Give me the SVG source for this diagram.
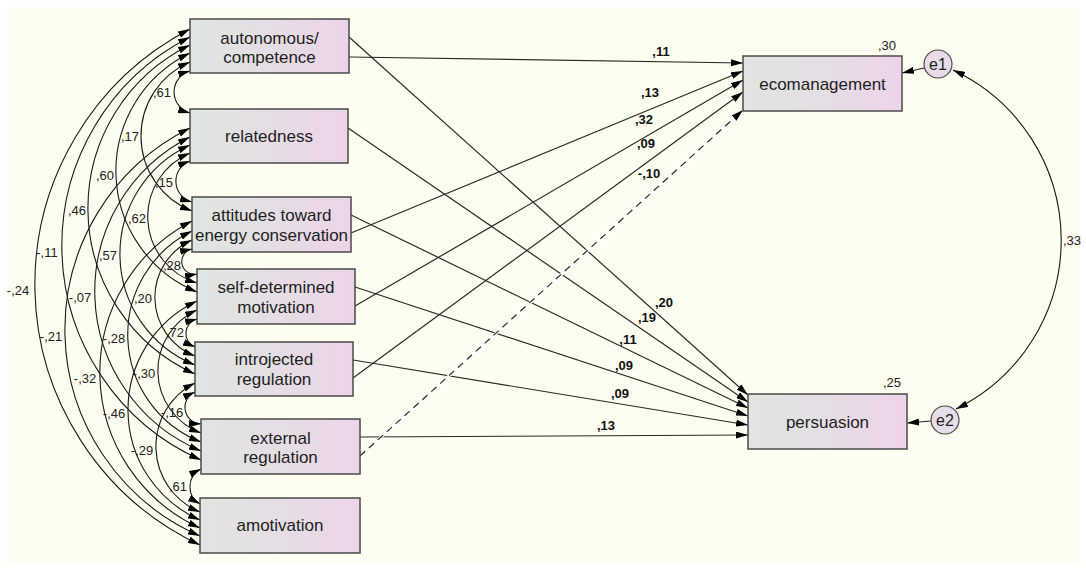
<svg xmlns="http://www.w3.org/2000/svg" width="1086" height="568" viewBox="0 0 1086 568">
<defs>
<linearGradient id="g" x1="0" y1="0" x2="1" y2="0">
<stop offset="0" stop-color="#dfe6e0"/>
<stop offset="1" stop-color="#ecd4ea"/>
</linearGradient>
<marker id="ah" viewBox="0 0 12 7" refX="12" refY="3.5" markerWidth="12" markerHeight="7" markerUnits="userSpaceOnUse" orient="auto-start-reverse">
<path d="M0,0 L12,3.5 L0,7 z" fill="#000"/>
</marker>
<style>
.box{fill:url(#g);stroke:#4a4a4a;stroke-width:1.5}
.err{fill:#e9dcea;stroke:#4a4a4a;stroke-width:1.2}
.nt{font-family:"Liberation Sans",Arial,sans-serif;font-size:17px;fill:#1e1e1e;text-anchor:middle}
.et{font-family:"Liberation Sans",Arial,sans-serif;font-size:16px;fill:#1e1e1e;text-anchor:middle}
.cov{fill:none;stroke:#1a1a1a;stroke-width:1.1;marker-start:url(#ah);marker-end:url(#ah)}
.reg{fill:none;stroke:#2a2a2a;stroke-width:1.2;marker-end:url(#ah)}
.cl{font-family:"Liberation Sans",Arial,sans-serif;font-size:13px;fill:#222;text-anchor:middle}
.rl{font-family:"Liberation Sans",Arial,sans-serif;font-size:13px;font-weight:bold;fill:#111;text-anchor:middle}
</style>
</defs>
<rect x="0" y="0" width="1086" height="568" fill="#ffffff"/>
<rect x="7" y="7" width="1073" height="556" fill="#fefef0"/>

<g id="connectors">
<path class="cov" d="M190,71 A21.8,21.8 0 0 0 190,113"/>
<path class="cov" d="M190,62 A80.5,80.5 0 0 0 192,211"/>
<path class="cov" d="M190,53 A130.9,130.9 0 0 0 197,292"/>
<path class="cov" d="M190,45 A181.7,181.7 0 0 0 195,374"/>
<path class="cov" d="M190,37 A234.3,234.3 0 0 0 201,460"/>
<path class="cov" d="M190,29 A288,288 0 0 0 200,545"/>
<path class="cov" d="M190,161 A21.5,21.5 0 0 0 192,202"/>
<path class="cov" d="M190,153 A69.2,69.2 0 0 0 197,283"/>
<path class="cov" d="M190,145 A119.7,119.7 0 0 0 195,365"/>
<path class="cov" d="M190,137 A172.9,172.9 0 0 0 201,451"/>
<path class="cov" d="M190,128 A225.1,225.1 0 0 0 200,536"/>
<path class="cov" d="M192,249 A12.5,12.5 0 0 0 197,274"/>
<path class="cov" d="M192,240 A62.9,62.9 0 0 0 195,356"/>
<path class="cov" d="M192,231 A115.5,115.5 0 0 0 201,442"/>
<path class="cov" d="M192,221 A170.7,170.7 0 0 0 200,528"/>
<path class="cov" d="M197,319 A14.8,14.8 0 0 0 195,347"/>
<path class="cov" d="M197,310 A66.6,66.6 0 0 0 201,433"/>
<path class="cov" d="M197,301 A120.3,120.3 0 0 0 200,520"/>
<path class="cov" d="M195,392 A16.7,16.7 0 0 0 201,424"/>
<path class="cov" d="M195,383 A70.9,70.9 0 0 0 200,512"/>
<path class="cov" d="M201,469 A19.8,19.8 0 0 0 200,504"/>
<path class="cov" d="M953,70 A188,188 0 0 1 956,409"/>

<line class="reg" x1="349" y1="57" x2="743" y2="63"/>
<line class="reg" x1="349" y1="37" x2="748" y2="395"/>
<line class="reg" x1="348" y1="128" x2="748" y2="402"/>
<line class="reg" x1="351" y1="233" x2="743" y2="71"/>
<line class="reg" x1="351" y1="215" x2="748" y2="408"/>
<line class="reg" x1="355" y1="306" x2="743" y2="80"/>
<line class="reg" x1="355" y1="287" x2="748" y2="416"/>
<line class="reg" x1="353" y1="378" x2="743" y2="92"/>
<line class="reg" x1="353" y1="360" x2="748" y2="425"/>
<line class="reg" x1="360" y1="437" x2="748" y2="435"/>
<line x1="360" y1="456" x2="738" y2="115" stroke="#ffffff" stroke-width="3"/>
<line class="reg" x1="360" y1="456" x2="743" y2="110" stroke-dasharray="7,5"/>
<line class="reg" x1="924" y1="68" x2="902" y2="73"/>
<line class="reg" x1="931" y1="421" x2="907" y2="423"/>

<text class="cl" x="162" y="97">,61</text>
<text class="cl" x="130" y="141">,17</text>
<text class="cl" x="105" y="180">,60</text>
<text class="cl" x="77" y="215">,46</text>
<text class="cl" x="47" y="257">-,11</text>
<text class="cl" x="18" y="295">-,24</text>
<text class="cl" x="164" y="187">,15</text>
<text class="cl" x="137" y="223">,62</text>
<text class="cl" x="108" y="260">,57</text>
<text class="cl" x="80" y="302">-,07</text>
<text class="cl" x="51" y="341">-,21</text>
<text class="cl" x="172" y="270">,28</text>
<text class="cl" x="143" y="303">,20</text>
<text class="cl" x="114" y="343">-,28</text>
<text class="cl" x="85" y="383">-,32</text>
<text class="cl" x="175" y="337">,72</text>
<text class="cl" x="144" y="378">-,30</text>
<text class="cl" x="114" y="418">-,46</text>
<text class="cl" x="172" y="417">-,16</text>
<text class="cl" x="142" y="455">-,29</text>
<text class="cl" x="178" y="491">,61</text>
<text class="cl" x="1072" y="245">,33</text>

<text class="rl" x="661" y="56">,11</text>
<text class="rl" x="650" y="97">,13</text>
<text class="rl" x="644" y="124">,32</text>
<text class="rl" x="646" y="148">,09</text>
<text class="rl" x="649" y="178">-,10</text>
<text class="rl" x="664" y="307">,20</text>
<text class="rl" x="647" y="322">,19</text>
<text class="rl" x="628" y="344">,11</text>
<text class="rl" x="624" y="370">,09</text>
<text class="rl" x="620" y="398">,09</text>
<text class="rl" x="606" y="430">,13</text>
</g>

<g id="autonomous">
<rect class="box" x="190" y="19" width="159" height="54"/>
<text class="nt" x="269.5" y="44">autonomous/</text>
<text class="nt" x="269.5" y="63">competence</text>
</g>
<g id="relatedness">
<rect class="box" x="190" y="109" width="158" height="54"/>
<text class="nt" x="269" y="142">relatedness</text>
</g>
<g id="attitudes">
<rect class="box" x="192" y="197" width="159" height="55"/>
<text class="nt" x="271.5" y="221">attitudes toward</text>
<text class="nt" x="271.5" y="241">energy conservation</text>
</g>
<g id="selfdetermined">
<rect class="box" x="197" y="269" width="158" height="55"/>
<text class="nt" x="276" y="293">self-determined</text>
<text class="nt" x="276" y="313">motivation</text>
</g>
<g id="introjected">
<rect class="box" x="195" y="342" width="158" height="54"/>
<text class="nt" x="274" y="365">introjected</text>
<text class="nt" x="274" y="385">regulation</text>
</g>
<g id="external">
<rect class="box" x="201" y="419" width="159" height="55"/>
<text class="nt" x="280.5" y="444">external</text>
<text class="nt" x="280.5" y="463">regulation</text>
</g>
<g id="amotivation">
<rect class="box" x="200" y="498" width="160" height="55"/>
<text class="nt" x="280" y="531">amotivation</text>
</g>
<g id="ecomanagement">
<rect class="box" x="743" y="56" width="159" height="55"/>
<text class="nt" x="822.5" y="90">ecomanagement</text>
<text class="cl" x="887" y="50">,30</text>
</g>
<g id="persuasion">
<rect class="box" x="748" y="394" width="159" height="55"/>
<text class="nt" x="827.5" y="428">persuasion</text>
<text class="cl" x="892" y="387">,25</text>
</g>
<g id="e1">
<circle class="err" cx="938" cy="64" r="14"/>
<text class="et" x="938" y="70">e1</text>
</g>
<g id="e2">
<circle class="err" cx="945" cy="420" r="14"/>
<text class="et" x="945" y="426">e2</text>
</g>
</svg>
